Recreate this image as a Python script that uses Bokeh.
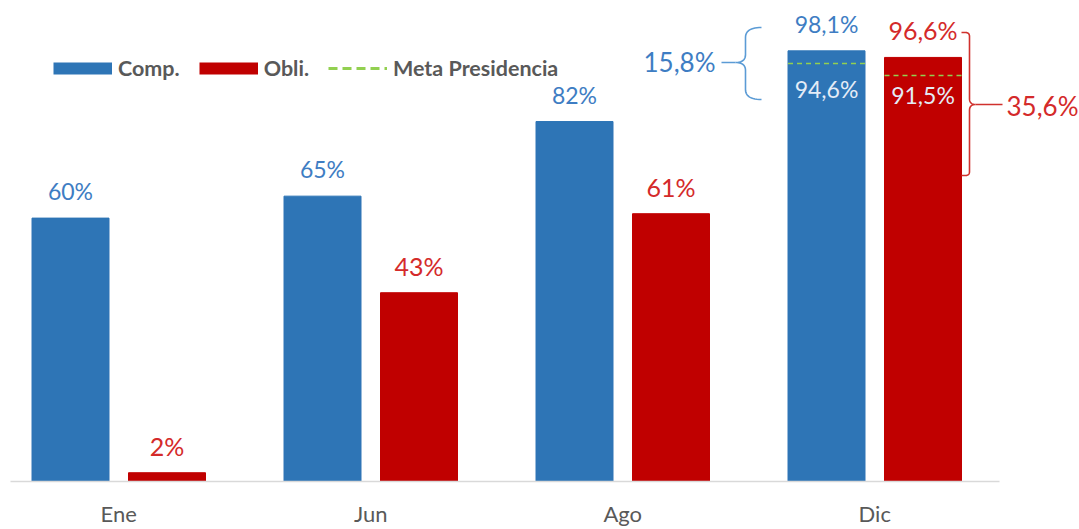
import numpy as np
from bokeh.plotting import figure
from bokeh.models import Range1d, FixedTicker, Legend, LegendItem, ColumnDataSource
from bokeh.core.properties import value
from bokeh.embed import file_html
from bokeh.resources import INLINE

# ---------------- data ----------------
months = ["Ene", "Jun", "Ago", "Dic"]
comp = [60, 65, 82, 98.1]
obli = [2, 43, 61, 96.6]
comp_labels = ["60%", "65%", "82%", "98,1%"]
obli_labels = ["2%", "43%", "61%", "96,6%"]
meta_values = [95.2, 92.5]          # Meta Presidencia lines (Dic: Comp., Obli.)
meta_labels = ["94,6%", "91,5%"]
gap_comp_label = "15,8%"
gap_obli_label = "35,6%"

# ---------------- layout ----------------
W, H = 1079, 529
BOTTOM = 48
PXX = 252.0            # px per category
PXY = 4.39             # px per percent
X0_PX = 118.25         # screen px of first category centre
x_start = -X0_PX / PXX
x_end = x_start + W / PXX
y_end = (H - BOTTOM) / PXY
OFF = 48.25 / PXX
BW = 77 / PXX

BLUE = "#2E75B6"
RED = "#C00000"
BLUE_TXT = "#3E7DC3"
RED_TXT = "#D42A2A"
GREEN = "#92D050"
GRAY = "#595959"
FONT = "Lato"

def X(px):
    return x_start + px / PXX

def Y(py):
    return (H - BOTTOM - py) / PXY

p = figure(width=W, height=H, output_backend="svg", toolbar_location=None,
           x_range=Range1d(x_start, x_end), y_range=Range1d(0, y_end),
           y_axis_location=None, min_border_left=0, min_border_right=0,
           min_border_top=0, min_border_bottom=BOTTOM)
p.outline_line_color = None
p.xgrid.visible = False
p.ygrid.visible = False
p.background_fill_color = "white"

idx = np.arange(len(months))
src = ColumnDataSource(dict(
    xc=idx - OFF, xo=idx + OFF, comp=comp, obli=obli,
    cl=comp_labels, ol=obli_labels))

p.vbar(x="xc", top="comp", width=BW, bottom=0, source=src, color=BLUE)
p.vbar(x="xo", top="obli", width=BW, bottom=0, source=src, color=RED)

p.text(x="xc", y="comp", text="cl", source=src, text_align="center",
       text_baseline="middle", y_offset=-27, text_color=BLUE_TXT,
       text_font=value(FONT), text_font_size="23px")
p.text(x="xo", y="obli", text="ol", source=src, text_align="center",
       text_baseline="middle", y_offset=-27, text_color=RED_TXT,
       text_font=value(FONT), text_font_size="25px")

# Meta Presidencia (Dic)
last = len(months) - 1
mx = [last - OFF, last + OFF]
meta_src = ColumnDataSource(dict(x0=[m - BW / 2 for m in mx], x1=[m + BW / 2 for m in mx],
                                 y=meta_values, xm=mx, top=[comp[last], obli[last]],
                                 lab=meta_labels))
p.segment(x0="x0", x1="x1", y0="y", y1="y", source=meta_src, line_color=GREEN,
          line_width=1.5, line_dash="5 4")
p.text(x="xm", y="top", text="lab", source=meta_src, text_align="center",
       text_baseline="middle", y_offset=38, text_color="#E4ECF7",
       text_font=value(FONT), text_font_size="23px")

# ---------------- brackets ----------------
def quad(a, c, b, n=14):
    t = np.linspace(0, 1, n)[:, None]
    a, c, b = np.array(a, float), np.array(c, float), np.array(b, float)
    return ((1 - t) ** 2) * a + 2 * (1 - t) * t * c + (t ** 2) * b

def path(pieces):
    pts = np.vstack(pieces)
    return [X(v) for v in pts[:, 0]], [Y(v) for v in pts[:, 1]]

# blue curly brace (left of Dic Comp.)
bx_end, bx_sp, bx_tip = 761, 745, 735
by_top, by_tip, by_bot = 27, 62, 99
bxs, bys = path([
    quad((bx_end, by_top), (bx_sp, by_top), (bx_sp, by_top + 10)),
    quad((bx_sp, by_tip - 8), (bx_sp, by_tip), (bx_tip, by_tip)),
    quad((bx_tip, by_tip), (bx_sp, by_tip), (bx_sp, by_tip + 8)),
    quad((bx_sp, by_bot - 10), (bx_sp, by_bot), (bx_end, by_bot)),
])
p.line(bxs, bys, line_color="#5B9BD5", line_width=1.6)
p.line([X(721), X(bx_tip)], [Y(by_tip), Y(by_tip)], line_color="#5B9BD5", line_width=1.6)
p.text(x=[X(715)], y=[Y(61)], text=[gap_comp_label], text_align="right",
       text_baseline="middle", text_color=BLUE_TXT, text_font=value(FONT),
       text_font_size="26px")

# red bracket (right of Dic Obli.)
rx_end, rx_sp, rx_tip = 961, 969, 975
ry_top, ry_tip, ry_bot = 32, 104, 175
rxs, rys = path([
    np.array([[rx_end, ry_top]]),
    quad((rx_sp - 4, ry_top), (rx_sp, ry_top), (rx_sp, ry_top + 4)),
    quad((rx_sp, ry_tip - 6), (rx_sp, ry_tip), (rx_tip, ry_tip)),
    quad((rx_tip, ry_tip), (rx_sp, ry_tip), (rx_sp, ry_tip + 6)),
    quad((rx_sp, ry_bot - 4), (rx_sp, ry_bot), (rx_sp - 4, ry_bot)),
    np.array([[rx_end, ry_bot]]),
])
p.line(rxs, rys, line_color="#D0312D", line_width=1.6)
p.line([X(rx_tip), X(1002)], [Y(ry_tip), Y(ry_tip)], line_color="#D0312D", line_width=1.6)
p.text(x=[X(1006)], y=[Y(105)], text=[gap_obli_label], text_align="left",
       text_baseline="middle", text_color=RED_TXT, text_font=value(FONT),
       text_font_size="26px")

# ---------------- axis ----------------
ax = p.xaxis[0]
ax.ticker = FixedTicker(ticks=list(idx))
ax.major_label_overrides = {int(i): m for i, m in enumerate(months)}
ax.bounds = (X(10), X(999))
ax.axis_line_color = "#D9D9D9"
ax.axis_line_width = 1.5
ax.major_tick_line_color = None
ax.minor_tick_line_color = None
ax.major_label_text_font = FONT
ax.major_label_text_font_size = "22px"
ax.major_label_text_color = GRAY
ax.major_label_standoff = 12

# ---------------- legend ----------------
# legend swatches (kept outside the visible range)
d_comp = p.line([x_start - 2, x_start - 1], [-10, -10], line_color=BLUE, line_width=12, line_cap="butt")
d_obli = p.line([x_start - 2, x_start - 1], [-10, -10], line_color=RED, line_width=12, line_cap="butt")
d_meta = p.line([x_start - 2, x_start - 1], [-10, -10], line_color=GREEN, line_width=3, line_dash="9 5")
legend = Legend(items=[LegendItem(label="Comp.", renderers=[d_comp]),
                       LegendItem(label="Obli.", renderers=[d_obli]),
                       LegendItem(label="Meta Presidencia", renderers=[d_meta])],
                orientation="horizontal", location=(53, 400),
                glyph_width=59, glyph_height=24, label_height=24,
                label_standoff=6, spacing=19, padding=0, margin=0,
                border_line_color=None, background_fill_alpha=0,
                label_text_font=FONT, label_text_font_style="bold",
                label_text_font_size="21.5px", label_text_color=GRAY)
p.add_layout(legend)

open("out.html", "w").write(file_html(p, INLINE))
